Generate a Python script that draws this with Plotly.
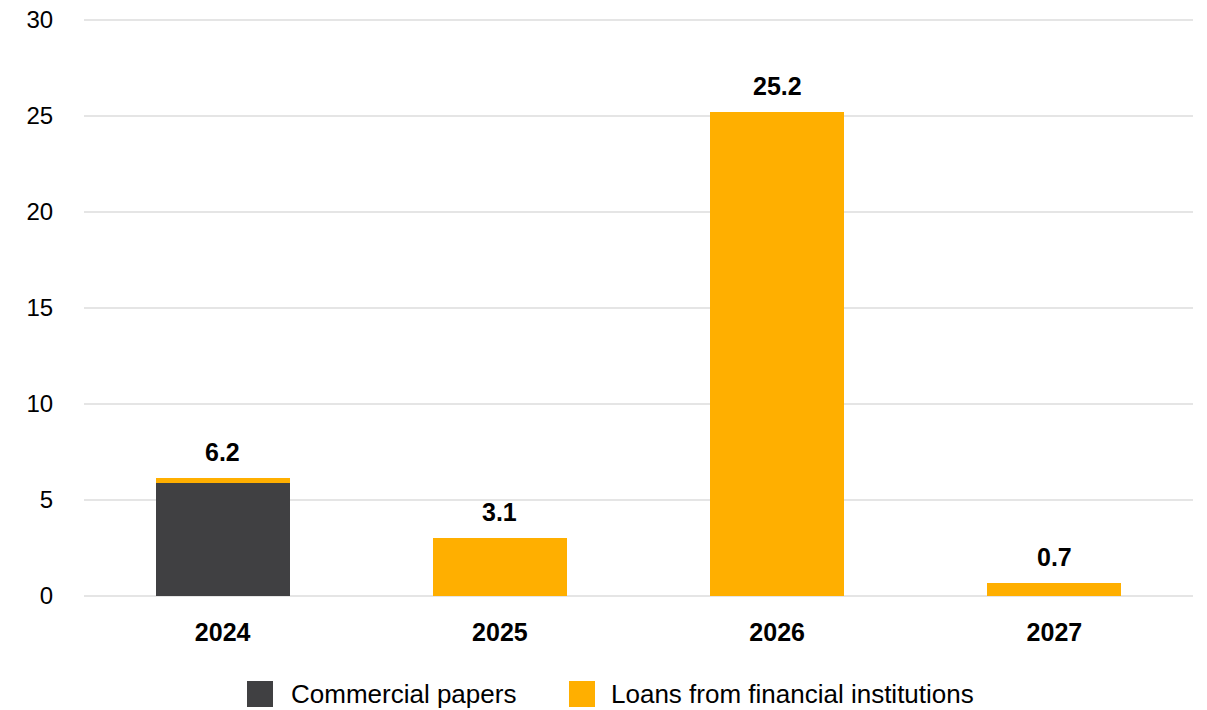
import plotly.graph_objects as go

years = ["2024", "2025", "2026", "2027"]
commercial_papers = [5.9, 0.0, 0.0, 0.0]
loans = [0.25, 3.0, 25.2, 0.7]
totals = [6.2, 3.1, 25.2, 0.7]
tick_vals = [0, 5, 10, 15, 20, 25, 30]
series_names = ["Commercial papers", "Loans from financial institutions"]
series_colors = ["#404042", "#FFAF00"]

FONT = "Liberation Sans, Arial, sans-serif"

fig = go.Figure()
fig.add_trace(go.Bar(x=years, y=commercial_papers, name=series_names[0],
                     marker=dict(color=series_colors[0], line=dict(width=0)),
                     showlegend=False))
fig.add_trace(go.Bar(x=years, y=loans, name=series_names[1],
                     marker=dict(color=series_colors[1], line=dict(width=0)),
                     showlegend=False))

for i, yr in enumerate(years):
    top = commercial_papers[i] + loans[i]
    fig.add_annotation(x=i, y=top, text=f"<b>{totals[i]:.1f}</b>", showarrow=False,
                       yanchor="bottom", yshift=10,
                       font=dict(family=FONT, size=25, color="#000000"))

# manual legend (plot area: x 84..1193 px, y 16..596 px)
LEFT, RIGHT = 84, 1193
TOP, BOT = 16, 596

def px_x(p):
    return (p - LEFT) / float(RIGHT - LEFT)

def px_y(p):
    return (BOT - p) / float(BOT - TOP)

legend_items = [(247, 289), (569, 609)]
for (sq_x, tx_x), name, col in zip(legend_items, series_names, series_colors):
    fig.add_shape(type="rect", xref="paper", yref="paper",
                  x0=px_x(sq_x), x1=px_x(sq_x + 26), y0=px_y(707), y1=px_y(681),
                  fillcolor=col, line=dict(width=0))
    fig.add_annotation(xref="paper", yref="paper", x=px_x(tx_x), y=px_y(694),
                       xanchor="left", yanchor="middle", text=name, showarrow=False,
                       font=dict(family=FONT, size=26, color="#000000"))

fig.update_layout(
    barmode="stack",
    bargap=0.517,
    width=1207, height=710,
    margin=dict(l=LEFT, r=1207 - RIGHT, t=TOP, b=710 - BOT, autoexpand=False),
    plot_bgcolor="white", paper_bgcolor="white",
    font=dict(family=FONT, size=24, color="#000000"),
    showlegend=False,
    xaxis=dict(type="category", range=[-0.5, len(years) - 0.5], automargin=False,
               tickfont=dict(family=FONT, size=25, color="#000000"),
               tickprefix="<b>", ticksuffix="</b>", showgrid=False,
               showline=False, ticks="outside", ticklen=14, tickcolor="white"),
    yaxis=dict(range=[0, 30.2], tickvals=tick_vals, showgrid=True, automargin=False,
               gridcolor="#E5E5E5", gridwidth=1.5, zeroline=True,
               zerolinecolor="#E5E5E5", zerolinewidth=1.5,
               tickfont=dict(family=FONT, size=24, color="#000000"),
               ticks="outside", ticklen=25, tickcolor="white"),
)

fig.write_html("out.html")
